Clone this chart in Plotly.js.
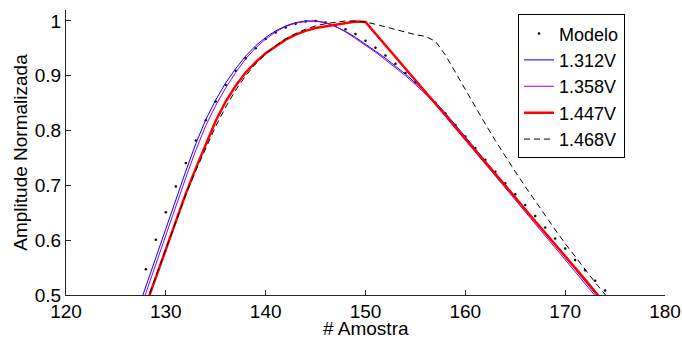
<!DOCTYPE html>
<html>
<head>
<meta charset="utf-8">
<script src="https://cdn.plot.ly/plotly-3.0.1.min.js"></script>
<style>
  html, body { margin: 0; padding: 0; background: #fff; }
  #chart { width: 682px; height: 338px; }
</style>
</head>
<body>
<div id="chart"></div>
<script>
const amostras = [127,128,129,130,131,132,133,134,135,136,137,138,139,140,141,142,143,144,145,146,147,148,149,150,151,152,153,154,155,156,157,158,159,160,161,162,163,164,165,166,167,168,169,170,171,172,173,174,175];

const modelo = [0.492,0.547,0.601,0.651,0.698,0.741,0.782,0.819,0.853,0.883,0.909,0.932,0.950,0.967,0.979,0.988,0.995,0.999,1.000,0.997,0.991,0.985,0.976,0.964,0.951,0.937,0.922,0.905,0.888,0.870,0.851,0.831,0.810,0.789,0.768,0.747,0.725,0.704,0.684,0.664,0.644,0.623,0.603,0.585,0.564,0.545,0.526,0.508,0.490];

const v1312 = [0.463,0.516,0.569,0.622,0.674,0.726,0.776,0.820,0.856,0.887,0.913,0.936,0.955,0.970,0.982,0.991,0.997,1.000,1.000,0.997,0.990,0.981,0.970,0.958,0.945,0.932,0.918,0.903,0.887,0.870,0.852,0.832,0.811,0.789,0.767,0.745,0.723,0.701,0.679,0.657,0.635,0.613,0.591,0.569,0.547,0.525,0.503,0.481,0.459];

const v1358 = [0.451,0.504,0.557,0.610,0.662,0.714,0.764,0.809,0.846,0.878,0.906,0.931,0.951,0.967,0.980,0.990,0.996,0.999,1.000,0.997,0.990,0.980,0.968,0.956,0.943,0.929,0.915,0.900,0.884,0.867,0.848,0.827,0.805,0.783,0.761,0.739,0.717,0.695,0.673,0.652,0.630,0.609,0.587,0.565,0.543,0.521,0.499,0.477,0.455];

const v1447 = [0.430,0.481,0.533,0.585,0.636,0.685,0.731,0.776,0.818,0.853,0.882,0.906,0.925,0.941,0.954,0.966,0.975,0.982,0.987,0.990,0.993,0.995,0.999,0.998,0.977,0.956,0.934,0.913,0.892,0.870,0.849,0.828,0.806,0.785,0.763,0.742,0.720,0.699,0.678,0.656,0.635,0.613,0.592,0.571,0.549,0.528,0.506,0.485,0.463];

const v1468 = [0.435,0.485,0.536,0.587,0.636,0.683,0.727,0.769,0.808,0.843,0.874,0.900,0.922,0.940,0.955,0.967,0.977,0.985,0.991,0.995,0.998,1.000,1.000,0.998,0.994,0.989,0.984,0.979,0.975,0.972,0.963,0.938,0.906,0.875,0.843,0.812,0.782,0.753,0.725,0.698,0.671,0.645,0.619,0.594,0.570,0.546,0.523,0.501,0.479];

const nomes = ['Modelo','1.312V','1.358V','1.447V','1.468V'];
const xTicks = [120,130,140,150,160,170,180];
const yTicks = [0.5,0.6,0.7,0.8,0.9,1];
const yTickText = ['0.5','0.6','0.7','0.8','0.9','1'];
const xTitle = '# Amostra';
const yTitle = 'Amplitude Normalizada';

const FONT = 'Liberation Sans, Arial, Helvetica, sans-serif';

const traces = [
  { x: amostras, y: modelo, name: nomes[0], mode: 'markers', type: 'scatter',
    marker: { color: '#000000', size: 2.5 } },
  { x: amostras, y: v1312, name: nomes[1], mode: 'lines', type: 'scatter',
    line: { color: '#0000ff', width: 1 } },
  { x: amostras, y: v1358, name: nomes[2], mode: 'lines', type: 'scatter',
    line: { color: '#9900cc', width: 1 } },
  { x: amostras, y: v1447, name: nomes[3], mode: 'lines', type: 'scatter',
    line: { color: '#ff0000', width: 2.5 } },
  { x: amostras, y: v1468, name: nomes[4], mode: 'lines', type: 'scatter',
    line: { color: '#000000', width: 1, dash: '6px,4px' } }
];

const layout = {
  width: 682, height: 338,
  margin: { l: 66, r: 17, t: 10, b: 43, pad: 0 },
  paper_bgcolor: '#ffffff', plot_bgcolor: '#ffffff',
  font: { family: FONT, size: 19, color: '#000000' },
  showlegend: true,
  hovermode: false,
  xaxis: {
    range: [120, 180], tickvals: xTicks, ticktext: xTicks.map(String),
    ticks: 'inside', ticklen: 5, tickcolor: '#262626', tickwidth: 1,
    ticklabelstandoff: -1,
    showline: true, linecolor: '#262626', linewidth: 1, mirror: false,
    showgrid: false, zeroline: false,
    tickfont: { family: FONT, size: 19, color: '#000000' },
    automargin: false
  },
  yaxis: {
    range: [0.5, 1.02], tickvals: yTicks, ticktext: yTickText,
    ticks: 'inside', ticklen: 5, tickcolor: '#262626', tickwidth: 1,
    showline: true, linecolor: '#262626', linewidth: 1, mirror: false,
    showgrid: false, zeroline: false,
    tickfont: { family: FONT, size: 19, color: '#000000' },
    title: { text: yTitle, font: { family: FONT, size: 19, color: '#000000' }, standoff: 2 },
    automargin: false
  },
  annotations: [{
    text: xTitle, xref: 'paper', yref: 'paper', x: 0.5, y: -0.119,
    xanchor: 'center', yanchor: 'middle', showarrow: false,
    font: { family: FONT, size: 19, color: '#000000' }
  }],
  legend: {
    x: 0.7546, y: 0.985, xanchor: 'left', yanchor: 'top',
    bgcolor: '#ffffff', bordercolor: '#000000', borderwidth: 1,
    font: { family: FONT, size: 18, color: '#000000' },
    tracegroupgap: 0
  }
};

Plotly.newPlot('chart', traces, layout, { displayModeBar: false, staticPlot: true });
</script>
</body>
</html>
